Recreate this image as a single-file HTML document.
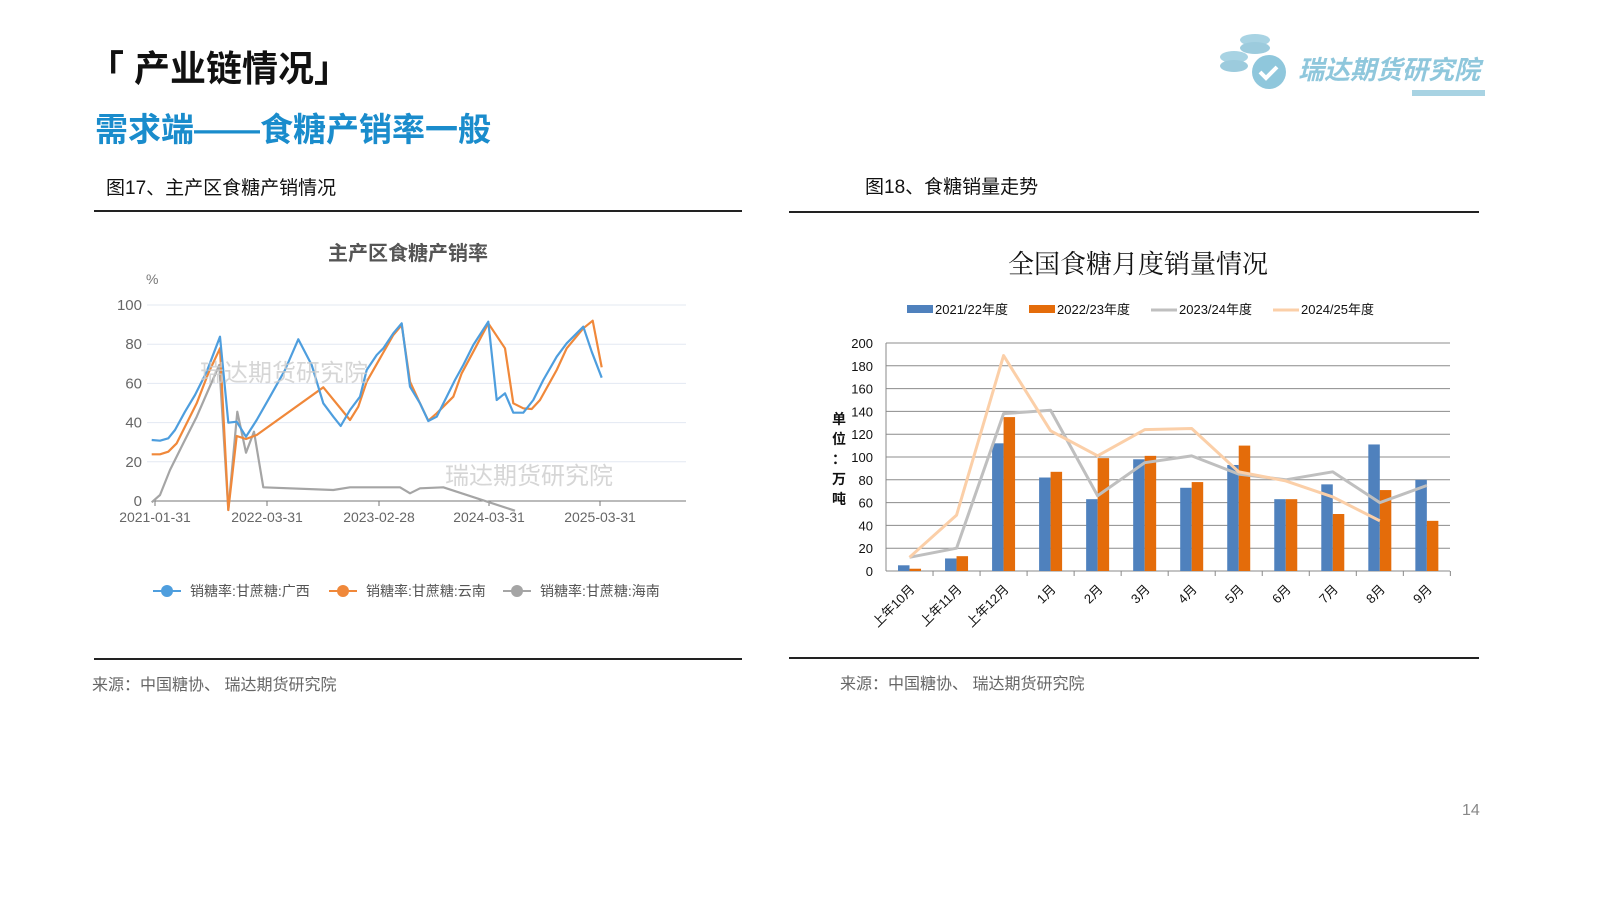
<!DOCTYPE html>
<html><head><meta charset="utf-8"><style>
body{margin:0;width:1600px;height:900px;background:#fff;position:relative;overflow:hidden;font-family:"Liberation Sans","Noto Sans CJK SC",sans-serif}
.t{position:absolute;white-space:nowrap}
</style></head><body>
<div class="t" style="left:88px;top:40px;font-size:36px;font-weight:bold;color:#111">「 产业链情况」</div>
<div class="t" style="left:95px;top:103px;font-size:33px;font-weight:bold;color:#1a8ccc">需求端——食糖产销率一般</div>
<div class="t" style="left:106px;top:173px;font-size:19px;color:#111">图17、主产区食糖产销情况</div>
<div class="t" style="left:865px;top:172px;font-size:19px;color:#111">图18、食糖销量走势</div>
<div class="t" style="left:92px;top:671px;font-size:16px;color:#666">来源：中国糖协、 瑞达期货研究院</div>
<div class="t" style="left:840px;top:670px;font-size:16px;color:#666">来源：中国糖协、 瑞达期货研究院</div>
<div class="t" style="left:1462px;top:802px;font-size:16px;color:#888">14</div>
<div class="t" style="left:1298px;top:50px;font-size:26px;font-weight:bold;font-style:italic;color:#8fc7dc">瑞达期货研究院</div>
<svg width="1600" height="900" style="position:absolute;left:0;top:0" id="s">
<line x1="94" y1="211" x2="742" y2="211" stroke="#222" stroke-width="2"/>
<line x1="789" y1="212" x2="1479" y2="212" stroke="#222" stroke-width="2"/>
<line x1="94" y1="659" x2="742" y2="659" stroke="#222" stroke-width="2"/>
<line x1="789" y1="658" x2="1479" y2="658" stroke="#222" stroke-width="2"/>
<rect x="1412" y="90" width="73" height="6" fill="#a8d3e3"/>
<ellipse cx="1255" cy="40" rx="15" ry="6" fill="#a8d3e3"/><ellipse cx="1255" cy="48" rx="15" ry="6" fill="#9ccbdd"/>
<ellipse cx="1234" cy="57" rx="14" ry="6" fill="#a8d3e3"/><ellipse cx="1234" cy="66" rx="14" ry="6" fill="#9ccbdd"/>
<circle cx="1269" cy="72" r="17" fill="#8fc7dc"/><path d="M1260 72 l6 6 l11 -11" stroke="#fff" stroke-width="4" fill="none"/>
<text x="408" y="260" font-size="20" font-weight="bold" fill="#555" text-anchor="middle">主产区食糖产销率</text>
<text x="146" y="284" font-size="14" fill="#777">%</text>
<text x="1138" y="273" font-size="26" fill="#111" text-anchor="middle" font-family="Noto Serif CJK SC,serif">全国食糖月度销量情况</text>
<g id="L"></g><g id="R"></g>
<text x="200" y="381" font-size="24" fill="#ccc" opacity="0.8">瑞达期货研究院</text>
<text x="445" y="484" font-size="24" fill="#ccc" opacity="0.8">瑞达期货研究院</text>
</svg>
<script>
var ns="http://www.w3.org/2000/svg";
function el(p,t,a,txt){var e=document.createElementNS(ns,t);for(var k in a)e.setAttribute(k,a[k]);if(txt!=null)e.textContent=txt;p.appendChild(e);return e}
var L=document.getElementById('L');
[0,20,40,60,80,100].forEach(function(v){var y=501-v*1.96;if(v)el(L,'line',{x1:147,x2:686,y1:y,y2:y,stroke:'#e3e8f2'});el(L,'text',{x:142,y:y+5,'font-size':15,fill:'#666','text-anchor':'end'},v)});
el(L,'line',{x1:152,x2:686,y1:501,y2:501,stroke:'#777'});
[['2021-01-31',155],['2022-03-31',267],['2023-02-28',379],['2024-03-31',489],['2025-03-31',600]].forEach(function(d){el(L,'line',{x1:d[1],x2:d[1],y1:501,y2:506,stroke:'#777'});el(L,'text',{x:d[1],y:522,'font-size':14,fill:'#666','text-anchor':'middle'},d[0])});
function pl(pts,c){var s=pts.map(function(p){return (100+p[0]/3).toFixed(1)+','+(230+p[1]/3).toFixed(1)}).join(' ');el(L,'polyline',{points:s,fill:'none',stroke:c,'stroke-width':2.2,'stroke-linejoin':'round'})}
pl([[155,817],[180,795],[210,720],[250,640],[290,560],[325,480],[358,405],[385,840],[412,545],[438,668],[462,605],[490,772],[700,780],[750,772],[900,772],[930,790],[960,775],[1030,772],[1245,842]],'#a5a5a5');
pl([[155,673],[180,673],[205,665],[230,640],[260,580],[290,520],[325,430],[360,355],[385,840],[410,618],[438,627],[470,615],[670,472],[750,570],[775,530],[800,455],[840,385],[880,315],[905,285],[930,455],[960,520],[985,572],[1010,550],[1060,500],[1085,430],[1120,365],[1165,280],[1215,355],[1240,520],[1270,535],[1295,537],[1320,510],[1370,420],[1400,355],[1450,295],[1478,272],[1505,412]],'#f0883a');
pl([[155,630],[180,632],[205,625],[225,600],[255,545],[285,495],[320,425],[360,320],[385,578],[410,575],[438,620],[470,570],[510,500],[555,420],[595,328],[635,405],[670,520],[700,560],[722,588],[750,540],[780,500],[800,420],[830,375],[850,355],[880,310],[905,280],[930,470],[960,520],[985,573],[1010,560],[1040,500],[1065,450],[1090,405],[1120,345],[1165,275],[1190,510],[1215,490],[1240,548],[1270,548],[1300,510],[1330,450],[1370,380],[1400,340],[1450,290],[1475,365],[1505,443]],'#4e9ede');
[['销糖率:甘蔗糖:广西',167,'#4e9ede'],['销糖率:甘蔗糖:云南',343,'#f0883a'],['销糖率:甘蔗糖:海南',517,'#a5a5a5']].forEach(function(d){el(L,'line',{x1:d[1]-14,x2:d[1]+14,y1:591,y2:591,stroke:d[2],'stroke-width':2});el(L,'circle',{cx:d[1],cy:591,r:6,fill:d[2]});el(L,'text',{x:d[1]+23,y:596,'font-size':14,fill:'#555'},d[0])});
var R=document.getElementById('R');
for(var v=0;v<=200;v+=20){var y=571-v*1.14;el(R,'line',{x1:886,x2:1450,y1:y,y2:y,stroke:v?'#8c8c8c':'#888','stroke-width':1});el(R,'text',{x:873,y:y+5,'font-size':13,fill:'#111','text-anchor':'end'},v)}
el(R,'line',{x1:886,x2:886,y1:343,y2:571,stroke:'#888'});
var cats=['上年10月','上年11月','上年12月','1月','2月','3月','4月','5月','6月','7月','8月','9月'];
var B=[5,11,112,82,63,98,73,93,63,76,111,80],O=[2,13,135,87,99,101,78,110,63,50,71,44];
var G=[12,20,138,141,66,95,101,85,80,87,60,75],P=[12,49,189,123,101,124,125,87,79,65,44];
var w=47.03;
cats.forEach(function(c,i){var cx=886+w*(i+0.5);el(R,'line',{x1:886+w*(i+1),x2:886+w*(i+1),y1:571,y2:576,stroke:'#888'});
el(R,'rect',{x:cx-11.5,y:571-B[i]*1.14,width:11.5,height:B[i]*1.14,fill:'#4f81bd'});
el(R,'rect',{x:cx,y:571-O[i]*1.14,width:11.5,height:O[i]*1.14,fill:'#e46c0a'});
el(R,'text',{x:cx+6,y:590,'font-size':13,fill:'#111','text-anchor':'end',transform:'rotate(-45 '+(cx+6)+' 590)'},c)});
function rl(d,c){el(R,'polyline',{points:d.map(function(v,i){return (886+w*(i+0.5))+','+(571-v*1.14)}).join(' '),fill:'none',stroke:c,'stroke-width':3,'stroke-linejoin':'round'})}
rl(G,'#bfbfbf');rl(P,'#fbcfa8');
[['2021/22年度',907,'#4f81bd'],['2022/23年度',1029,'#e46c0a'],['2023/24年度',1151,'#bfbfbf'],['2024/25年度',1273,'#fbcfa8']].forEach(function(d,i){if(i<2)el(R,'rect',{x:d[1],y:305,width:26,height:8,fill:d[2]});else el(R,'line',{x1:d[1],x2:d[1]+26,y1:310,y2:310,stroke:d[2],'stroke-width':3});el(R,'text',{x:d[1]+28,y:314,'font-size':13,fill:'#111'},d[0])});
['单','位','：','万','吨'].forEach(function(ch,i){el(R,'text',{x:839,y:424+i*20,'font-size':14,'font-weight':'bold',fill:'#111','text-anchor':'middle'},ch)});
</script>
</body></html>
